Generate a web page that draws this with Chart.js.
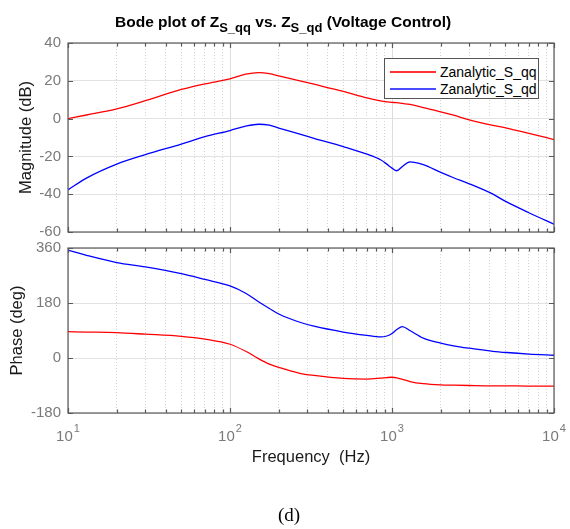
<!DOCTYPE html>
<html>
<head>
<meta charset="utf-8">
<script src="https://cdn.jsdelivr.net/npm/chart.js@4.4.1/dist/chart.umd.min.js"></script>
<style>
  html, body { margin: 0; padding: 0; background: #fff; }
  #page { position: relative; width: 570px; height: 529px; overflow: hidden; font-family: "Liberation Sans", Arial, sans-serif; }
  #page canvas { position: absolute; left: 0; top: 0; }
  #title { position: absolute; left: 115px; top: 14px; font-weight: bold; font-size: 15.5px; line-height: 1; white-space: nowrap; color: #000; }
  #title sub { font-size: 13px; vertical-align: -5px; line-height: 1; }
  #legend { position: absolute; left: 384px; top: 58px; width: 153px; height: 39px; border: 1px solid #555; background: #fff; font-size: 14px; color: #000; }
  #legend .row { position: absolute; left: 0; height: 17px; line-height: 17px; white-space: nowrap; }
  #legend .swatch { position: absolute; left: 5px; top: 7px; width: 46px; height: 2px; }
  #legend .txt { position: absolute; left: 55px; top: 0; }
  #caption { position: absolute; left: 0; width: 578px; top: 505px; text-align: center; font-family: "Liberation Serif", "Times New Roman", serif; font-size: 19px; line-height: 1; color: #000; }
</style>
</head>
<body>
<div id="page">
  <canvas id="magChart" width="570" height="529"></canvas>
  <canvas id="phaseChart" width="570" height="529"></canvas>
  <div id="title">Bode plot of Z<sub>S_qq</sub> vs. Z<sub>S_qd</sub> (Voltage Control)</div>
  <div id="legend">
    <div class="row" style="top:5px"><span class="swatch" style="background:rgba(255,0,0,0.8)"></span><span class="txt">Zanalytic_S_qq</span></div>
    <div class="row" style="top:22px"><span class="swatch" style="background:rgba(0,0,255,0.7)"></span><span class="txt">Zanalytic_S_qd</span></div>
  </div>
  <div id="caption">(d)</div>
</div>
<script>
// 频率点 (Hz)
const freqHz = [10, 13, 20, 30, 50, 70, 100, 125, 150, 175, 200, 270, 330, 500, 700, 850, 930, 1000, 1070, 1160, 1290, 1560, 2000, 2400, 3000, 4200, 5100, 7000, 10000];

// 幅值 (dB)
const magQQ = [0, 1.9, 5.1, 9.5, 15.4, 18.4, 21.0, 23.5, 24.3, 23.8, 22.6, 20.0, 18.2, 14.4, 11.0, 9.4, 8.9, 8.6, 8.4, 8.0, 7.5, 5.8, 3.6, 1.8, -0.7, -3.6, -5.0, -7.8, -11.1];
const magQD = [-37.7, -31.5, -24.1, -19.1, -13.5, -9.6, -6.3, -4.0, -3.0, -3.5, -5.0, -8.2, -10.4, -14.8, -18.8, -21.8, -24.1, -26.2, -27.6, -25.3, -22.9, -24.4, -28.5, -31.3, -34.5, -40.0, -44.1, -49.8, -55.9];

// 相位 (deg)
const phaseQQ = [86, 85, 83, 78, 71, 62, 45, 22, -2, -20, -31, -50, -57, -67, -69, -66, -64, -63, -65, -70, -77, -84, -88, -89, -90, -91, -91, -92, -92];
const phaseQD = [353, 336, 312, 298, 276, 257, 236, 212, 184, 162, 144, 117, 104, 85, 74, 69, 72, 80, 93, 103, 90, 65, 49, 40, 32, 22, 18, 13, 9];

// 坐标轴刻度
const xDecades = [10, 100, 1000, 10000];
const magTicks = [-60, -40, -20, 0, 20, 40];
const phaseTicks = [-180, 0, 180, 360];
const seriesNames = ['Zanalytic_S_qq', 'Zanalytic_S_qd'];

const FONT = '"Liberation Sans", Arial, sans-serif';
const isDecade = v => xDecades.includes(v);

// 对数轴的主/次刻度 (10,20,...,90,100,...)
const xTickValues = [];
xDecades.forEach((d, i) => {
    if (i === xDecades.length - 1) { xTickValues.push(d); return; }
    for (let k = 1; k <= 9; k++) xTickValues.push(d * k);
});

const toPoints = (ys) => freqHz.map((f, i) => ({ x: f, y: ys[i] }));

// MATLAB风格的边框和向内刻度
const boxPlugin = {
    id: 'matlabBox',
    afterDraw(chart) {
        const { ctx, chartArea: a, scales } = chart;
        const xs = scales.x, ys = scales.y;
        ctx.save();
        ctx.strokeStyle = '#5a5a5a';
        ctx.lineWidth = 1.2;
        ctx.strokeRect(a.left, a.top, a.right - a.left, a.bottom - a.top);
        ctx.beginPath();
        xs.ticks.forEach(t => {
            const px = Math.round(xs.getPixelForValue(t.value)) + 0.5;
            const len = isDecade(t.value) ? 5 : 3.5;
            ctx.moveTo(px, a.bottom); ctx.lineTo(px, a.bottom - len);
            ctx.moveTo(px, a.top); ctx.lineTo(px, a.top + len);
        });
        ys.ticks.forEach(t => {
            const py = Math.round(ys.getPixelForValue(t.value)) + 0.5;
            ctx.moveTo(a.left, py); ctx.lineTo(a.left + 5, py);
            ctx.moveTo(a.right, py); ctx.lineTo(a.right - 5, py);
        });
        ctx.stroke();

        // 10^n 刻度标签 (带上标)
        const opts = chart.options.plugins.decadeLabels;
        if (opts && opts.display) {
            ctx.fillStyle = '#7a7a7a';
            ctx.textBaseline = 'alphabetic';
            ctx.textAlign = 'left';
            xDecades.forEach(v => {
                const px = xs.getPixelForValue(v);
                const exp = String(Math.round(Math.log10(v)));
                ctx.font = '15px ' + FONT;
                const wBase = ctx.measureText('10').width;
                ctx.font = '11px ' + FONT;
                const wExp = ctx.measureText(exp).width;
                const x0 = px - (wBase + 1 + wExp) / 2;
                ctx.font = '15px ' + FONT;
                ctx.fillText('10', x0, a.bottom + 28);
                ctx.font = '11px ' + FONT;
                ctx.fillText(exp, x0 + wBase + 1, a.bottom + 19);
            });
        }
        ctx.restore();
    }
};

const makeXScale = (height, titleText) => ({
    type: 'logarithmic',
    min: 10,
    max: 10000,
    afterBuildTicks: (scale) => {
        scale.ticks = xTickValues.map(v => ({ value: v }));
    },
    afterFit: (scale) => {
        scale.height = height;
        scale.paddingLeft = 0;
        scale.paddingRight = 0;
    },
    grid: {
        drawTicks: false,
        color: c => (c.tick && isDecade(c.tick.value)) ? '#dcdcdc' : '#d4d4d4',
        lineWidth: 1
    },
    border: {
        display: false,
        dash: c => (c.tick && !isDecade(c.tick.value)) ? [1, 2] : []
    },
    ticks: { display: false, autoSkip: false },
    title: {
        display: !!titleText,
        text: titleText || '',
        color: '#1a1a1a',
        padding: { top: 0, bottom: 6 },
        font: { family: FONT, size: 16.5 }
    }
});

const makeYScale = (tickList, titleText, titlePad) => ({
    type: 'linear',
    min: tickList[0],
    max: tickList[tickList.length - 1],
    afterBuildTicks: (scale) => {
        scale.ticks = tickList.map(v => ({ value: v }));
    },
    afterFit: (scale) => {
        scale.width = 68;
        scale.paddingTop = 0;
        scale.paddingBottom = 0;
    },
    grid: { drawTicks: false, color: '#e2e2e2', lineWidth: 1 },
    border: { display: false },
    ticks: {
        padding: 7,
        color: '#7a7a7a',
        font: { family: FONT, size: 15 }
    },
    title: {
        display: true,
        text: titleText,
        color: '#1a1a1a',
        padding: { top: titlePad, bottom: 0 },
        font: { family: FONT, size: 16.5 }
    }
});

const makeDataset = (name, ys, color) => ({
    label: name,
    data: toPoints(ys),
    borderColor: color,
    backgroundColor: color,
    borderWidth: 1.3,
    pointRadius: 0,
    cubicInterpolationMode: 'monotone',
    fill: false
});

const basePlugins = { legend: { display: false }, tooltip: { enabled: false }, title: { display: false } };

document.addEventListener('DOMContentLoaded', () => {
    new Chart(document.getElementById('magChart').getContext('2d'), {
        type: 'line',
        data: {
            datasets: [
                makeDataset(seriesNames[0], magQQ, '#ff0000'),
                makeDataset(seriesNames[1], magQD, '#0000ff')
            ]
        },
        options: {
            responsive: false,
            animation: false,
            events: [],
            plugins: { ...basePlugins, decadeLabels: { display: false } },
            layout: { padding: { left: 0, right: 16, top: 43, bottom: 297 } },
            scales: {
                x: makeXScale(0, null),
                y: makeYScale(magTicks, 'Magnitude (dB)', 17)
            }
        },
        plugins: [boxPlugin]
    });

    new Chart(document.getElementById('phaseChart').getContext('2d'), {
        type: 'line',
        data: {
            datasets: [
                makeDataset(seriesNames[0], phaseQQ, '#ff0000'),
                makeDataset(seriesNames[1], phaseQD, '#0000ff')
            ]
        },
        options: {
            responsive: false,
            animation: false,
            events: [],
            plugins: { ...basePlugins, decadeLabels: { display: true } },
            layout: { padding: { left: 0, right: 16, top: 248, bottom: 56 } },
            scales: {
                x: makeXScale(60, 'Frequency  (Hz)'),
                y: makeYScale(phaseTicks, 'Phase (deg)', 8)
            }
        },
        plugins: [boxPlugin]
    });
});
</script>
</body>
</html>
